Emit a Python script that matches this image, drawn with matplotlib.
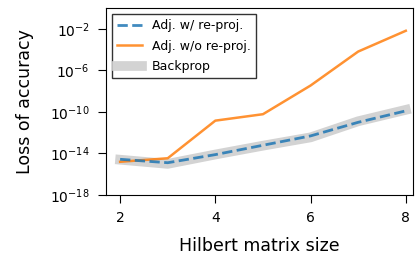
import numpy as np
import matplotlib
matplotlib.use("Agg")
import matplotlib.pyplot as plt

sizes = [2, 3, 4, 5, 6, 7, 8]
adj_reproj = [10**-14.56, 10**-14.89, 10**-14.11, 10**-13.21, 10**-12.31, 10**-11.0, 10**-9.9]
adj_noreproj = [10**-14.8, 10**-14.46, 10**-10.84, 10**-10.22, 10**-7.46, 10**-4.19, 10**-2.19]
backprop = [10**-14.6, 10**-15.0, 10**-14.1, 10**-13.25, 10**-12.45, 10**-10.9, 10**-9.8]

fig, ax = plt.subplots(figsize=(4.15, 2.59), dpi=100)
ax.plot(sizes, backprop, color="lightgray", lw=7, label="Backprop", zorder=1)
ax.plot(sizes, adj_reproj, color="tab:blue", ls="--", lw=2, alpha=0.85,
        label="Adj. w/ re-proj.", zorder=3)
ax.plot(sizes, adj_noreproj, color="tab:orange", lw=1.8, alpha=0.85,
        label="Adj. w/o re-proj.", zorder=2)

ax.set_yscale("log")
ax.set_ylim(1e-18, 1e0)
ax.set_yticks([1e-18, 1e-14, 1e-10, 1e-6, 1e-2])
ax.minorticks_off()
ax.set_xlim(1.7, 8.15)
ax.set_xticks([2, 4, 6, 8])
ax.tick_params(labelsize=10, length=5.5, pad=6)
ax.set_xlabel("Hilbert matrix size", fontsize=12.5, labelpad=9)
ax.set_ylabel("Loss of accuracy", fontsize=12.5, labelpad=12)

handles, labels = ax.get_legend_handles_labels()
order = [1, 2, 0]
ax.legend([handles[i] for i in order], [labels[i] for i in order],
          loc="upper left", fontsize=9, fancybox=False, edgecolor="black",
          labelspacing=0.6)

fig.subplots_adjust(left=0.255, right=0.995, top=0.969, bottom=0.247)
fig.savefig("out.png", dpi=100)
